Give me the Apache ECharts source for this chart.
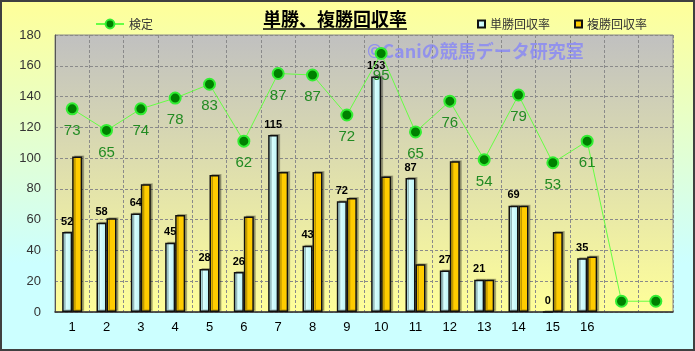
<!DOCTYPE html>
<html>
<head>
<meta charset="utf-8">
<script src="https://cdn.jsdelivr.net/npm/echarts@6/dist/echarts.min.js"></script>
<style>
  html, body { margin: 0; padding: 0; }
  #myChart { width: 695px; height: 351px; }
</style>
</head>
<body>
<div id="myChart"></div>
<script>
// カテゴリ（17, 18 はラベルなし）
const categories = ['1', '2', '3', '4', '5', '6', '7', '8', '9', '10', '11', '12', '13', '14', '15', '16', '', ''];
// 単勝回収率
const tanshoRate = [52, 58, 64, 45, 28, 26, 115, 43, 72, 153, 87, 27, 21, 69, 0, 35, null, null];
// 複勝回収率
const fukushoRate = [101, 61, 83, 63, 89, 62, 91, 91, 74, 88, 31, 98, 21, 69, 52, 36, null, null];
// 検定（線の位置）
const kenteiValues = [132, 118, 132, 139, 148, 111, 155, 154, 128, 168, 117, 137, 99, 141, 97, 111, 7, 7];
// 検定（表示ラベル）
const kenteiLabels = ['73', '65', '74', '78', '83', '62', '87', '87', '72', '95', '65', '76', '54', '79', '53', '61', '', ''];
const yTicks = { min: 0, max: 180, interval: 20 };

const font = '"Liberation Sans", Arial, "Noto Sans CJK JP", sans-serif';
const jpFont = '"Noto Sans CJK JP", sans-serif';

let myChart = echarts.init(document.getElementById('myChart'));
myChart.setOption({
  animation: false,
  // 外側の背景：黄色 → 水色
  backgroundColor: new echarts.graphic.LinearGradient(0, 0, 0, 1, [
    { offset: 0, color: '#FFFF99' },
    { offset: 0.75, color: '#CCFFFF' },
    { offset: 1, color: '#CCFFFF' }
  ]),
  textStyle: { fontFamily: font },
  graphic: [
    {
      type: 'text', left: 263, top: 10, z: 10,
      style: { text: '単勝、複勝回収率', font: 'bold 18px ' + jpFont, fill: '#000' }
    },
    {
      type: 'line', z: 10,
      shape: { x1: 263, y1: 29, x2: 407, y2: 29 },
      style: { stroke: '#000', lineWidth: 1.5 }
    },
    {
      // ウォーターマーク
      type: 'text', left: 367, top: 42, z: 1,
      style: { text: '©Caniの競馬データ研究室', font: 'bold 18px ' + jpFont, fill: 'rgba(125,125,255,0.7)' }
    },
    {
      type: 'rect', z: 20, silent: true,
      shape: { x: 1, y: 1, width: 693, height: 349 },
      style: { fill: 'none', stroke: '#404040', lineWidth: 2 }
    }
  ],
  legend: [
    {
      data: ['検定'],
      left: 90, top: 13,
      itemWidth: 28, itemHeight: 11,
      textStyle: { fontFamily: jpFont, fontSize: 12, color: '#333' }
    },
    {
      data: ['単勝回収率', '複勝回収率'],
      left: 472, top: 13,
      icon: 'rect', itemWidth: 7, itemHeight: 7, itemGap: 24,
      textStyle: { fontFamily: jpFont, fontSize: 12, color: '#333' }
    }
  ],
  grid: {
    left: 55, right: 22, top: 35, bottom: 39,
    show: true,
    borderColor: '#888',
    borderWidth: 1,
    // プロットエリア：灰色 → 黄色
    backgroundColor: new echarts.graphic.LinearGradient(0, 0, 0, 1, [
      { offset: 0, color: '#C0C0C0' },
      { offset: 1, color: '#FFFF99' }
    ])
  },
  xAxis: {
    type: 'category',
    data: categories,
    axisLine: { lineStyle: { color: '#333', width: 1.5 } },
    axisTick: { show: false },
    axisLabel: { color: '#000', fontSize: 13, margin: 9 },
    splitLine: { show: true, lineStyle: { color: '#8a8a8a', type: [3, 2] } }
  },
  yAxis: {
    type: 'value',
    min: yTicks.min, max: yTicks.max, interval: yTicks.interval,
    axisLine: { show: true, lineStyle: { color: '#555' } },
    axisTick: { show: false },
    axisLabel: { color: '#333', fontSize: 13, margin: 14 },
    splitLine: { show: true, lineStyle: { color: '#8a8a8a', type: [3, 2] } }
  },
  series: [
    {
      name: '単勝回収率',
      type: 'bar',
      data: tanshoRate,
      barWidth: 10,
      barGap: '0%',
      z: 3,
      itemStyle: {
        color: new echarts.graphic.LinearGradient(0, 0, 1, 0, [
          { offset: 0, color: '#A8E8EE' },
          { offset: 0.4, color: '#D8FFFF' },
          { offset: 1, color: '#B8F0F4' }
        ]),
        borderColor: '#111', borderWidth: 1.5,
        shadowColor: 'rgba(0,0,0,0.25)', shadowOffsetX: 2, shadowOffsetY: -1
      },
      label: {
        show: true, position: 'top', distance: 5,
        color: '#000', fontWeight: 'bold', fontSize: 11
      }
    },
    {
      name: '複勝回収率',
      type: 'bar',
      data: fukushoRate,
      barWidth: 10,
      z: 3,
      itemStyle: {
        color: '#FFCC00',
        borderColor: '#111', borderWidth: 1.5,
        shadowColor: 'rgba(0,0,0,0.25)', shadowOffsetX: 2, shadowOffsetY: -1
      }
    },
    {
      name: '検定',
      type: 'line',
      data: kenteiValues,
      z: 5,
      symbol: 'circle',
      symbolSize: 11,
      lineStyle: { color: '#66FF44', width: 1 },
      itemStyle: { color: '#008000', borderColor: '#33EE33', borderWidth: 2 },
      label: {
        show: true, position: 'bottom', distance: 8,
        color: '#228B22', fontSize: 15,
        formatter: function (p) { return kenteiLabels[p.dataIndex]; }
      }
    }
  ]
});
</script>
</body>
</html>
